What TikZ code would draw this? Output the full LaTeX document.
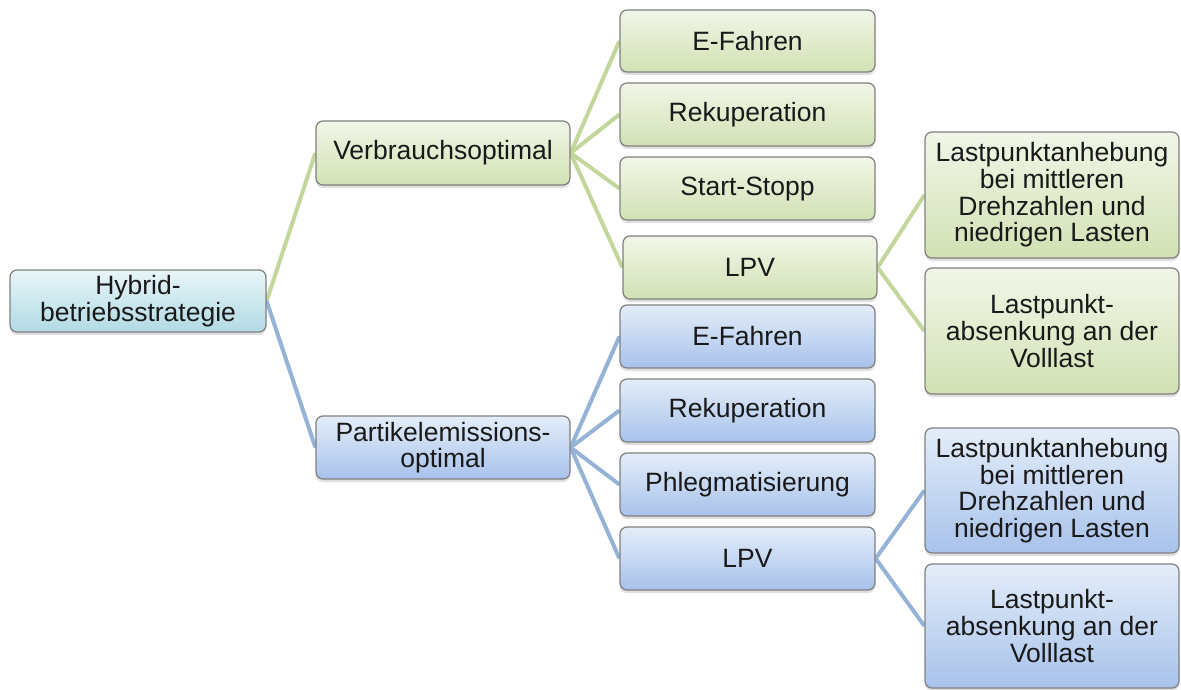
\documentclass[tikz,border=0pt]{standalone}
\usepackage{fontspec}
\setmainfont{Liberation Sans}
\usetikzlibrary{shadows}
\pgfdeclarelayer{bg}
\pgfsetlayers{bg,main}
\definecolor{greenline}{HTML}{C3D69B}
\definecolor{blueline}{HTML}{95B3D7}
\definecolor{greentop}{HTML}{F1F6E8}
\definecolor{greenbot}{HTML}{D2E1B4}
\definecolor{bluetop}{HTML}{E4EDF9}
\definecolor{bluebot}{HTML}{A8C2EB}
\definecolor{cyantop}{HTML}{E8F5F8}
\definecolor{cyanbot}{HTML}{B2DAE5}
\definecolor{boxborder}{HTML}{7F7F7F}
\tikzset{
  box/.style={draw=boxborder, line width=1.2pt, rounded corners=7pt,
    align=center, inner sep=0pt, text=black!90,
    font=\fontsize{26.5}{26.7}\selectfont,
    drop shadow={opacity=0.25, shadow xshift=0pt, shadow yshift=-3pt}},
  greenbox/.style={box, top color=greentop, bottom color=greenbot},
  bluebox/.style={box, top color=bluetop, bottom color=bluebot},
  rootbox/.style={box, top color=cyantop, bottom color=cyanbot},
  gline/.style={draw=greenline, line width=4pt},
  bline/.style={draw=blueline, line width=4pt},
}
\begin{document}
\begin{tikzpicture}[x=1pt,y=-1pt]
\useasboundingbox (0,0) rectangle (1181,690);

% root
\node[rootbox, minimum width=256pt, minimum height=62pt] (root) at (138,301) {Hybrid-\\betriebsstrategie};

% second level
\node[greenbox, minimum width=254pt, minimum height=64pt] (v) at (443,153) {Verbrauchsoptimal};
\node[bluebox, minimum width=254pt, minimum height=63pt] (p) at (443,447.5) {Partikelemissions-\\optimal};

% green branch
\node[greenbox, minimum width=255pt, minimum height=62pt] (g1) at (747.5,41) {E-Fahren};
\node[greenbox, minimum width=255pt, minimum height=63pt] (g2) at (747.5,114.5) {Rekuperation};
\node[greenbox, minimum width=255pt, minimum height=63pt] (g3) at (747.5,188.5) {Start-Stopp};
\node[greenbox, minimum width=254pt, minimum height=63pt] (g4) at (750,267.5) {LPV};
\node[greenbox, minimum width=254pt, minimum height=126pt] (gl1) at (1052,195) {Lastpunktanhebung\\bei mittleren\\Drehzahlen und\\niedrigen Lasten};
\node[greenbox, minimum width=254pt, minimum height=126pt] (gl2) at (1052,331) {Lastpunkt-\\absenkung an der\\Volllast};

% blue branch
\node[bluebox, minimum width=255pt, minimum height=63pt] (b1) at (747.5,336.5) {E-Fahren};
\node[bluebox, minimum width=255pt, minimum height=63pt] (b2) at (747.5,410.5) {Rekuperation};
\node[bluebox, minimum width=255pt, minimum height=63pt] (b3) at (747.5,484.5) {Phlegmatisierung};
\node[bluebox, minimum width=255pt, minimum height=63pt] (b4) at (747.5,558.5) {LPV};
\node[bluebox, minimum width=254pt, minimum height=125pt] (bl1) at (1052,490.5) {Lastpunktanhebung\\bei mittleren\\Drehzahlen und\\niedrigen Lasten};
\node[bluebox, minimum width=254pt, minimum height=124pt] (bl2) at (1052,626) {Lastpunkt-\\absenkung an der\\Volllast};

% connectors
\begin{pgfonlayer}{bg}
\draw[gline] (root.east) -- (v.west);
\draw[bline] (root.east) -- (p.west);
\foreach \c in {g1,g2,g3,g4} \draw[gline] (v.east) -- (\c.west);
\foreach \c in {gl1,gl2} \draw[gline] (g4.east) -- (\c.west);
\foreach \c in {b1,b2,b3,b4} \draw[bline] (p.east) -- (\c.west);
\foreach \c in {bl1,bl2} \draw[bline] (b4.east) -- (\c.west);
\end{pgfonlayer}
\end{tikzpicture}
\end{document}
